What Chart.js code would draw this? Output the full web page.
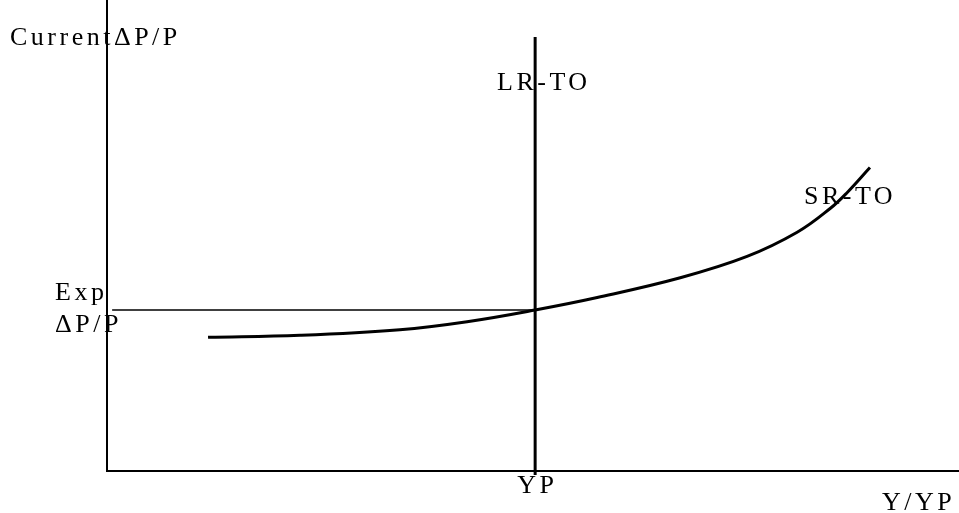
<!DOCTYPE html>
<html>
<head>
<meta charset="utf-8">
<script src="https://cdn.jsdelivr.net/npm/chart.js@4/dist/chart.umd.min.js"></script>
<style>
  body { margin: 0; background: #fff; }
  #wrap { width: 959px; height: 513px; }
</style>
</head>
<body>
<div id="wrap"><canvas id="chart"></canvas></div>
<script>
// short-run trade-off curve (Y/YP vs current inflation)
const srX = [0.236, 0.451, 0.684, 0.841, 1.0, 1.145, 1.339, 1.495, 1.612, 1.689, 1.729, 1.782];
const srY = [3.32, 3.37, 3.51, 3.71, 4.0, 4.31, 4.80, 5.33, 5.93, 6.52, 6.92, 7.54];
// long-run trade-off: vertical at YP
const lrX = [1, 1];
const lrY = [-0.1, 10.78];
// expected inflation guide
const expX = [0.012, 1];
const expY = [4, 4];

const toPts = (xs, ys) => xs.map((x, i) => ({ x: x, y: ys[i] }));

const FONT = '26px "Liberation Serif", "DejaVu Serif", serif';

const labels = {
  id: 'labels',
  afterDraw(chart) {
    const ctx = chart.ctx;
    const a = chart.chartArea;
    const xs = chart.scales.x;
    ctx.save();
    // axes
    ctx.strokeStyle = '#000';
    ctx.lineWidth = 2;
    ctx.beginPath();
    ctx.moveTo(a.left, a.top);
    ctx.lineTo(a.left, a.bottom);
    ctx.lineTo(a.right, a.bottom);
    ctx.stroke();

    ctx.fillStyle = '#000';
    ctx.font = FONT;
    ctx.letterSpacing = '3.5px';
    ctx.textBaseline = 'alphabetic';
    ctx.textAlign = 'left';
    ctx.fillText('Current\u0394P/P', 10, 45);
    ctx.fillText('LR-TO', 497, 90);
    ctx.fillText('SR-TO', 804, 204);
    ctx.fillText('Exp', 55, 300);
    ctx.fillText('\u0394P/P', 55, 332);
    ctx.fillText('YP', xs.getPixelForValue(1) - 18, 493);
    ctx.fillText('Y/YP', 882, 510);
    ctx.restore();
  }
};

new Chart(document.getElementById('chart').getContext('2d'), {
  type: 'line',
  data: {
    datasets: [
      {
        data: toPts(srX, srY),
        borderColor: '#000',
        borderWidth: 3,
        pointRadius: 0,
        tension: 0.4,
        fill: false
      },
      {
        data: toPts(lrX, lrY),
        borderColor: '#000',
        borderWidth: 3,
        pointRadius: 0,
        clip: false
      },
      {
        data: toPts(expX, expY),
        borderColor: '#000',
        borderWidth: 1.5,
        pointRadius: 0
      }
    ]
  },
  options: {
    responsive: true,
    maintainAspectRatio: false,
    animation: false,
    layout: { padding: { left: 107, right: 0, top: 0, bottom: 42 } },
    plugins: { legend: { display: false }, tooltip: { enabled: false } },
    scales: {
      x: { type: 'linear', min: 0, max: 1.99, display: false },
      y: { type: 'linear', min: 0, max: 11.7, display: false }
    }
  },
  plugins: [labels]
});
</script>
</body>
</html>
